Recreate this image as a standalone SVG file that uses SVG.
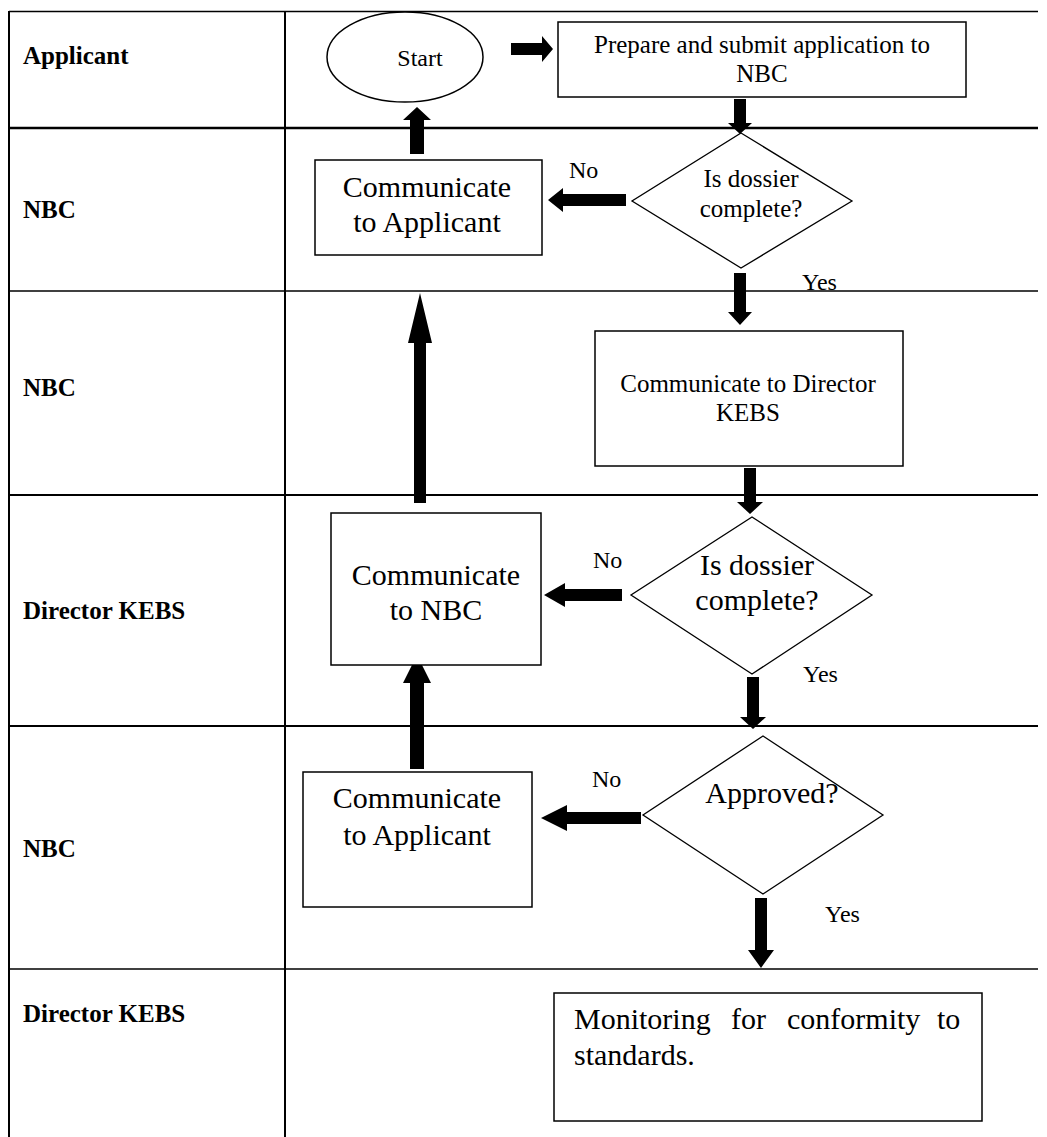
<svg xmlns="http://www.w3.org/2000/svg" width="1047" height="1137" viewBox="0 0 1047 1137">
  <style>
    .grid { stroke: #000; fill: none; }
    .lane { font-family: "Liberation Serif", "Times New Roman", serif; font-weight: bold; font-size: 25px; fill: #000; }
    .shape { fill: #fff; stroke: #000; stroke-width: 1.5; }
    .dia { fill: #fff; stroke: #000; stroke-width: 1.3; }
    .t { font-family: "Liberation Serif", "Times New Roman", serif; fill: #000; text-anchor: middle; }
    .s24 { font-size: 24px; }
    .s25 { font-size: 25px; }
    .s30 { font-size: 30px; }
    .lbl { font-family: "Liberation Serif", "Times New Roman", serif; font-size: 24px; fill: #000; }
    .arr { fill: #000; stroke: none; }
  </style>
  <rect width="1047" height="1137" fill="#fff"/>

  <g id="table">
    <line class="grid" x1="9" y1="11.5" x2="1038" y2="11.5" stroke-width="1.5"/>
    <line class="grid" x1="9" y1="128" x2="1038" y2="128" stroke-width="2.5"/>
    <line class="grid" x1="9" y1="291" x2="1038" y2="291" stroke-width="1.5"/>
    <line class="grid" x1="9" y1="495" x2="1038" y2="495" stroke-width="2"/>
    <line class="grid" x1="9" y1="726" x2="1038" y2="726" stroke-width="2"/>
    <line class="grid" x1="9" y1="969" x2="1038" y2="969" stroke-width="1.5"/>
    <line class="grid" x1="9" y1="11" x2="9" y2="1137" stroke-width="2"/>
    <line class="grid" x1="285" y1="11" x2="285" y2="1137" stroke-width="2"/>
    <text class="lane" x="23" y="64">Applicant</text>
    <text class="lane" x="23" y="218">NBC</text>
    <text class="lane" x="23" y="396">NBC</text>
    <text class="lane" x="23" y="619">Director KEBS</text>
    <text class="lane" x="23" y="857">NBC</text>
    <text class="lane" x="23" y="1022">Director KEBS</text>
  </g>

  <g id="connectors">
    <polygon class="arr" points="511,43 542,43 542,36 553,49 542,62 542,55 511,55"/>
    <polygon class="arr" points="734,99 746,99 746,123 752,123 740,134 728,123 734,123"/>
    <polygon class="arr" points="626,194 563,194 563,188 548,200 563,212 563,206 626,206"/>
    <polygon class="arr" points="410,154 410,120 403,120 417,107 431,120 424,120 424,154"/>
    <polygon class="arr" points="734,273 746,273 746,312 752,312 740,325 728,312 734,312"/>
    <polygon class="arr" points="744,468 756,468 756,502 763,502 750,514 737,502 744,502"/>
    <polygon class="arr" points="622,589 565,589 565,583 544,595 565,607 565,601 622,601"/>
    <polygon class="arr" points="414,503 414,343 408,343 420,293 432,343 426,343 426,503"/>
    <polygon class="arr" points="747,677 759,677 759,717 766,717 753,729 740,717 747,717"/>
    <polygon class="arr" points="641,812 567,812 567,805 541,818 567,831 567,824 641,824"/>
    <polygon class="arr" points="410,769 410,683 403,683 417,655 431,683 424,683 424,769"/>
    <polygon class="arr" points="755,898 767,898 767,950 774,950 761,968 748,950 755,950"/>
    <text class="lbl" x="569" y="178">No</text>
    <text class="lbl" x="802" y="290">Yes</text>
    <text class="lbl" x="593" y="568">No</text>
    <text class="lbl" x="803" y="682">Yes</text>
    <text class="lbl" x="592" y="787">No</text>
    <text class="lbl" x="825" y="922">Yes</text>
  </g>

  <g id="start">
    <ellipse class="shape" cx="405" cy="57" rx="78" ry="45"/>
    <text class="t s24" x="420" y="66">Start</text>
  </g>

  <g id="prepare">
    <rect class="shape" x="558" y="22" width="408" height="75"/>
    <text class="t s25" x="762" y="53">Prepare and submit application to</text>
    <text class="t s25" x="762" y="82">NBC</text>
  </g>

  <g id="decision1">
    <polygon class="dia" points="741,133 852,201 741,268 632,201"/>
    <text class="t s25" x="751" y="187">Is dossier</text>
    <text class="t s25" x="751" y="217">complete?</text>
  </g>

  <g id="communicate-applicant-1">
    <rect class="shape" x="315" y="160" width="227" height="95"/>
    <text class="t s30" x="427" y="197">Communicate</text>
    <text class="t s30" x="427" y="232">to Applicant</text>
  </g>

  <g id="communicate-director">
    <rect class="shape" x="595" y="331" width="308" height="135"/>
    <text class="t s25" x="748" y="392">Communicate to Director</text>
    <text class="t s25" x="748" y="421">KEBS</text>
  </g>

  <g id="decision2">
    <polygon class="dia" points="752,517 872,595 752,674 631,595"/>
    <text class="t s30" x="757" y="575">Is dossier</text>
    <text class="t s30" x="757" y="610">complete?</text>
  </g>

  <g id="communicate-nbc">
    <rect class="shape" x="331" y="513" width="210" height="152"/>
    <text class="t s30" x="436" y="585">Communicate</text>
    <text class="t s30" x="436" y="620">to NBC</text>
  </g>

  <g id="decision3">
    <polygon class="dia" points="763,736 883,815 763,894 643,815"/>
    <text class="t s30" x="772" y="803">Approved?</text>
  </g>

  <g id="communicate-applicant-2">
    <rect class="shape" x="303" y="772" width="229" height="135"/>
    <text class="t s30" x="417" y="808">Communicate</text>
    <text class="t s30" x="417" y="845">to Applicant</text>
  </g>

  <g id="monitoring">
    <rect class="shape" x="554" y="993" width="428" height="128"/>
    <text class="t s30" style="text-anchor:start" y="1029"><tspan x="574">Monitoring</tspan><tspan x="731">for</tspan><tspan x="787">conformity</tspan><tspan x="937">to</tspan></text>
    <text class="t s30" style="text-anchor:start" x="574" y="1065">standards.</text>
  </g>
</svg>
